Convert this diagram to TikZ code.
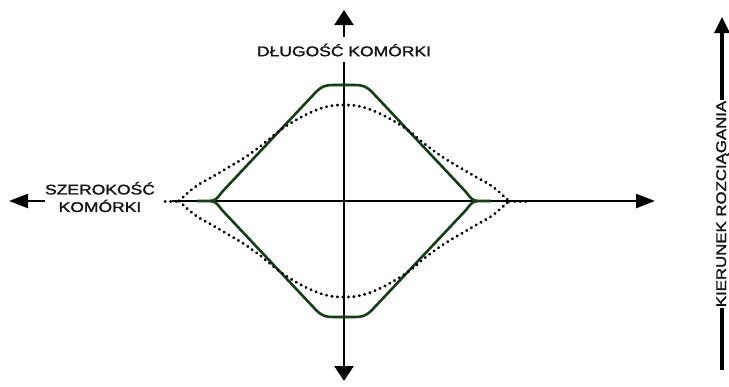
\documentclass[tikz,border=0pt]{standalone}
\usepackage{fontspec}
\setmainfont{Liberation Sans}
\newfontfamily\lblfont[FakeBold=1.5]{Liberation Sans}
\usepackage{graphicx}
\usetikzlibrary{arrows.meta}
\newcommand\sxt[1]{\scalebox{1.25}[1]{#1}}
\newcommand\sxr[1]{\scalebox{1.2}[1]{#1}}
\definecolor{curvegreen}{RGB}{20,62,20}
\definecolor{lblgray}{RGB}{20,20,20}
\begin{document}
\begin{tikzpicture}[x=1pt,y=-1pt,
  axis/.style={line width=2.3pt,black},
  vhead/.style={-{Triangle[length=15pt,width=19pt]}},
  hhead/.style={-{Triangle[length=19pt,width=14pt]}},
  lbl/.style={font=\lblfont\fontsize{14}{17.5}\selectfont, inner sep=0pt, text=lblgray},
  solidc/.style={curvegreen, line width=2.6pt, line join=round},
  dotc/.style={black, line width=3pt, line cap=round, dash pattern=on 0.3pt off 5.2pt}]
\useasboundingbox (0,0) rectangle (729,386);

% coordinates
\coordinate (xlt) at (9,201);
\coordinate (xlm) at (45,201);
\coordinate (xl) at (172,201);
\coordinate (xr) at (655,201);
\coordinate (yt) at (344,10);
\coordinate (yg1) at (344,37);
\coordinate (yg2) at (344,62);
\coordinate (yb) at (344,381);
\coordinate (rt) at (722,17);
\coordinate (rm1) at (722,100);
\coordinate (rm2) at (722,308);
\coordinate (rb) at (722,370);

% labels
\node[lbl] (ylab) at (344,50) {\sxt{DŁUGOŚĆ KOMÓRKI}};
\node[lbl, align=center] (xlab) at (100,197) {\sxt{SZEROKOŚĆ}\\\sxt{KOMÓRKI}};
\node[lbl, rotate=90, anchor=base] (rlab) at (726,204) {\sxr{KIERUNEK ROZCIĄGANIA}};

% axes
\draw[axis,vhead] (yg1) -- (yt);
\draw[axis,vhead] (yg2) -- (yb);
\draw[axis,hhead] (xlm) -- (xlt);
\draw[axis,hhead] (xl) -- (xr);

% right arrow
\draw[line width=3.2pt,-{Triangle[length=16pt,width=15pt]}] (rm1) -- (rt);
\draw[line width=3.2pt] (rm2) -- (rb);

% solid curve
\draw[solidc] (197,201) -- (210,201) .. controls (216,201) and (218,197) .. (222,192)
  -- (316,92) .. controls (322,86) and (326,85) .. (333,85) -- (355,85)
  .. controls (362,85) and (366,86) .. (372,92) -- (466,192)
  .. controls (470,197) and (472,201) .. (478,201) -- (491,201);
\draw[solidc] (210,201) .. controls (216,201) and (218,205) .. (222,210)
  -- (316,310) .. controls (322,316) and (326,317) .. (333,317) -- (355,317)
  .. controls (362,317) and (366,316) .. (372,310) -- (466,210)
  .. controls (470,205) and (472,201) .. (478,201);

% dotted curve
\draw[dotc] plot[smooth,tension=0.7] coordinates {(179,201) (195,187) (212,177) (229,167) (244,158) (262,145) (279,131) (296,120) (314,111) (330,106) (344,105) (358,106) (374,111) (392,120) (409,131) (426,145) (444,158) (459,167) (476,177) (493,187) (509,201)};
\draw[dotc] plot[smooth,tension=0.7] coordinates {(179,201) (195,215) (212,225) (229,235) (244,244) (262,257) (279,271) (296,282) (314,291) (330,296) (344,297) (358,296) (374,291) (392,282) (409,271) (426,257) (444,244) (459,235) (476,225) (493,215) (509,201)};
\draw[dotc] (165,201) -- (179,201);
\draw[dotc] (509,201) -- (526,201);
\end{tikzpicture}
\end{document}
